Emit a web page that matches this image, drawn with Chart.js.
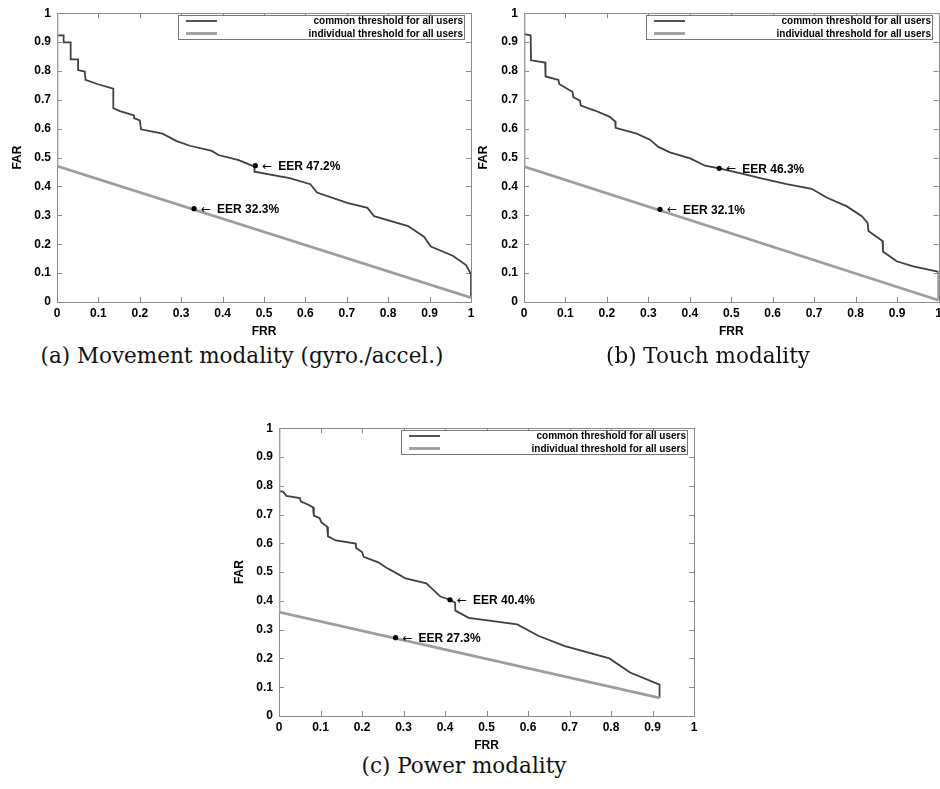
<!DOCTYPE html>
<html>
<head>
<meta charset="utf-8">
<script src="https://cdn.jsdelivr.net/npm/chart.js@4.4.1/dist/chart.umd.min.js"></script>
<style>
    html, body { margin: 0; padding: 0; background: #fff; overflow: hidden; }
    body { width: 940px; height: 789px; position: relative; }
    canvas { position: absolute; }
    .caption {
        position: absolute;
        font-family: "DejaVu Serif", serif;
        font-size: 21.5px;
        line-height: 21px;
        color: #111;
        white-space: nowrap;
        transform: translateX(-50%);
    }
</style>
</head>
<body>
<canvas id="chart-a"></canvas>
<canvas id="chart-b"></canvas>
<canvas id="chart-c"></canvas>
<div class="caption" id="cap-a"></div>
<div class="caption" id="cap-b"></div>
<div class="caption" id="cap-c"></div>
<script>
// tick labels (same on both axes)
const tickValues = [0, 0.1, 0.2, 0.3, 0.4, 0.5, 0.6, 0.7, 0.8, 0.9, 1];
const seriesLabels = ['common threshold for all users', 'individual threshold for all users'];
const captions = ['(a) Movement modality (gyro./accel.)', '(b) Touch modality', '(c) Power modality'];

// (a) movement: [FRR, FAR] points
const movementCommon = [[0, 0.923], [0.016, 0.923], [0.016, 0.899], [0.033, 0.899], [0.033, 0.84], [0.051, 0.84],
    [0.051, 0.803], [0.067, 0.798], [0.069, 0.769], [0.099, 0.754], [0.136, 0.739], [0.136, 0.671], [0.152, 0.661],
    [0.186, 0.646], [0.186, 0.637], [0.2, 0.629], [0.203, 0.598], [0.255, 0.583], [0.289, 0.557], [0.321, 0.541],
    [0.374, 0.523], [0.39, 0.509], [0.439, 0.491], [0.477, 0.469], [0.477, 0.451], [0.562, 0.429], [0.612, 0.408],
    [0.628, 0.379], [0.701, 0.343], [0.75, 0.326], [0.766, 0.297], [0.848, 0.263], [0.887, 0.225], [0.903, 0.192],
    [0.956, 0.16], [0.988, 0.128], [1, 0.097], [1, 0.015]];
const movementIndividual = [[0, 1], [0, 0.471], [1, 0.015]];
const movementEER = [[0.479, 0.472], [0.331, 0.323]];
const movementEERLabels = ['EER 47.2%', 'EER 32.3%'];

// (b) touch
const touchCommon = [[0, 0.928], [0.016, 0.923], [0.017, 0.837], [0.051, 0.829], [0.052, 0.781], [0.083, 0.769],
    [0.085, 0.755], [0.103, 0.739], [0.117, 0.728], [0.119, 0.709], [0.135, 0.697], [0.137, 0.68], [0.171, 0.663],
    [0.206, 0.642], [0.22, 0.625], [0.221, 0.603], [0.272, 0.583], [0.304, 0.562], [0.324, 0.537], [0.352, 0.518],
    [0.401, 0.497], [0.437, 0.472], [0.471, 0.463], [0.513, 0.449], [0.57, 0.429], [0.634, 0.408], [0.694, 0.392],
    [0.73, 0.362], [0.779, 0.331], [0.815, 0.297], [0.829, 0.274], [0.831, 0.246], [0.865, 0.211], [0.866, 0.175],
    [0.899, 0.141], [0.939, 0.123], [0.998, 0.105], [1, 0.105], [1, 0.006]];
const touchIndividual = [[0, 1], [0, 0.469], [1, 0.006]];
const touchEER = [[0.471, 0.463], [0.328, 0.321]];
const touchEERLabels = ['EER 46.3%', 'EER 32.1%'];

// (c) power
const powerCommon = [[0, 0.782], [0.01, 0.779], [0.018, 0.765], [0.05, 0.757], [0.053, 0.745], [0.072, 0.733],
    [0.082, 0.725], [0.084, 0.696], [0.098, 0.687], [0.102, 0.673], [0.116, 0.658], [0.118, 0.624], [0.137, 0.61],
    [0.185, 0.599], [0.186, 0.584], [0.2, 0.57], [0.204, 0.553], [0.239, 0.534], [0.259, 0.515], [0.287, 0.493],
    [0.305, 0.478], [0.355, 0.461], [0.389, 0.415], [0.412, 0.404], [0.424, 0.394], [0.425, 0.366], [0.457, 0.341],
    [0.574, 0.318], [0.626, 0.278], [0.689, 0.243], [0.796, 0.2], [0.846, 0.151], [0.917, 0.109], [0.917, 0.063]];
const powerIndividual = [[0, 1], [0, 0.361], [0.917, 0.063]];
const powerEER = [[0.412, 0.404], [0.281, 0.272]];
const powerEERLabels = ['EER 40.4%', 'EER 27.3%'];

const FONT = 'Liberation Sans';
const FRAME = '#8a8a8a';

function toXY(pairs) {
    return pairs.map(p => ({ x: p[0], y: p[1] }));
}

// gnuplot-ish frame with inward ticks, key box and EER notes
const gnuplotDecor = {
    id: 'gnuplotDecor',
    beforeDatasetsDraw(chart) {
        const ctx = chart.ctx;
        const { left, right, top, bottom } = chart.chartArea;
        const xs = chart.scales.x, ys = chart.scales.y;
        ctx.save();
        ctx.strokeStyle = FRAME;
        ctx.lineWidth = 1;
        ctx.beginPath();
        tickValues.forEach(v => {
            const px = Math.round(xs.getPixelForValue(v)) + 0.5;
            ctx.moveTo(px, bottom); ctx.lineTo(px, bottom - 5);
            ctx.moveTo(px, top); ctx.lineTo(px, top + 5);
            const py = Math.round(ys.getPixelForValue(v)) + 0.5;
            ctx.moveTo(left, py); ctx.lineTo(left + 5, py);
            ctx.moveTo(right, py); ctx.lineTo(right - 5, py);
        });
        ctx.stroke();
        ctx.strokeRect(Math.round(left) + 0.5, Math.round(top) + 0.5, Math.round(right - left), Math.round(bottom - top));
        ctx.restore();
    },
    afterDatasetsDraw(chart) {
        const ctx = chart.ctx;
        const { right, top } = chart.chartArea;
        const sets = chart.data.datasets;
        ctx.save();

        // key
        const bw = 286, bh = 24;
        const bx = Math.round(right - 7 - bw) + 0.5, by = Math.round(top + 2) + 0.5;
        ctx.fillStyle = '#fff';
        ctx.fillRect(bx, by, bw, bh);
        ctx.strokeStyle = '#777';
        ctx.lineWidth = 1;
        ctx.strokeRect(bx, by, bw, bh);
        ctx.font = 'bold 10px "' + FONT + '"';
        ctx.textAlign = 'right';
        ctx.textBaseline = 'middle';
        ctx.fillStyle = '#000';
        [0, 1].forEach(i => {
            const y = by + 5.5 + i * 12.5;
            ctx.strokeStyle = sets[i].borderColor;
            ctx.lineWidth = sets[i].borderWidth;
            ctx.beginPath();
            ctx.moveTo(bx + 7.5, y);
            ctx.lineTo(bx + 38.5, y);
            ctx.stroke();
            ctx.fillText(sets[i].label, bx + bw - 1.5, y + 0.5);
        });

        // EER notes next to the points: thin arrow, then bold text
        const meta = chart.getDatasetMeta(2);
        ctx.textAlign = 'left';
        meta.data.forEach((pt, i) => {
            ctx.font = '12px "DejaVu Sans"';
            const ax = pt.x + 7;
            ctx.fillText('\u2190', ax, pt.y + 1);
            ctx.font = 'bold 12px "' + FONT + '"';
            ctx.fillText(sets[2].notes[i], pt.x + 23, pt.y + 1);
        });
        ctx.restore();
    }
};

function makePanel(id, box, plot, common, individual, eer, notes) {
    const canvas = document.getElementById(id);
    canvas.width = box.w;
    canvas.height = box.h;
    canvas.style.left = box.x + 'px';
    canvas.style.top = box.y + 'px';
    const tickFont = { family: FONT, size: 12, weight: 'bold' };
    return new Chart(canvas, {
        type: 'scatter',
        data: {
            datasets: [
                { label: seriesLabels[0], data: toXY(common), showLine: true, borderColor: '#404040',
                  borderWidth: 1.8, pointRadius: 0, order: 2 },
                { label: seriesLabels[1], data: toXY(individual), showLine: true, borderColor: '#9e9e9e',
                  borderWidth: 2.8, pointRadius: 0, order: 1 },
                { label: 'EER', data: toXY(eer), showLine: false, pointRadius: 2.6, borderWidth: 0,
                  backgroundColor: '#000', order: 0, notes: notes }
            ]
        },
        options: {
            responsive: false,
            animation: false,
            events: [],
            layout: { padding: { top: plot.top - box.y, right: box.x + box.w - plot.right, left: 0, bottom: 0 } },
            plugins: { legend: { display: false }, tooltip: { enabled: false } },
            scales: {
                x: {
                    type: 'linear', min: 0, max: 1,
                    afterBuildTicks: s => { s.ticks = tickValues.map(v => ({ value: v })); },
                    afterFit: s => { s.height = box.y + box.h - plot.bottom; },
                    grid: { display: false, drawTicks: false },
                    border: { display: false },
                    ticks: { padding: 4, color: '#000', font: tickFont, maxRotation: 0, callback: v => String(v) },
                    title: { display: true, text: 'FRR', color: '#000', padding: 0, font: tickFont }
                },
                y: {
                    type: 'linear', min: 0, max: 1,
                    afterBuildTicks: s => { s.ticks = tickValues.map(v => ({ value: v })); },
                    afterFit: s => { s.width = plot.left - box.x; },
                    grid: { display: false, drawTicks: false },
                    border: { display: false },
                    ticks: { padding: 6, color: '#000', font: tickFont, callback: v => String(v) },
                    title: { display: true, text: 'FAR', color: '#000', padding: 0, font: tickFont }
                }
            }
        },
        plugins: [gnuplotDecor]
    });
}

makePanel('chart-a', { x: 10, y: 0, w: 470, h: 339 }, { left: 57, right: 471, top: 10, bottom: 302 },
    movementCommon, movementIndividual, movementEER, movementEERLabels);
makePanel('chart-b', { x: 476, y: 0, w: 474, h: 339 }, { left: 524, right: 938.5, top: 10, bottom: 302 },
    touchCommon, touchIndividual, touchEER, touchEERLabels);
makePanel('chart-c', { x: 232, y: 415, w: 470, h: 338 }, { left: 279, right: 694, top: 425, bottom: 716 },
    powerCommon, powerIndividual, powerEER, powerEERLabels);

// captions, placed by centre x and top y
const capPos = [[242, 345], [708, 345], [464, 755]];
['cap-a', 'cap-b', 'cap-c'].forEach((id, i) => {
    const el = document.getElementById(id);
    el.textContent = captions[i];
    el.style.left = capPos[i][0] + 'px';
    el.style.top = capPos[i][1] + 'px';
});
</script>
</body>
</html>
